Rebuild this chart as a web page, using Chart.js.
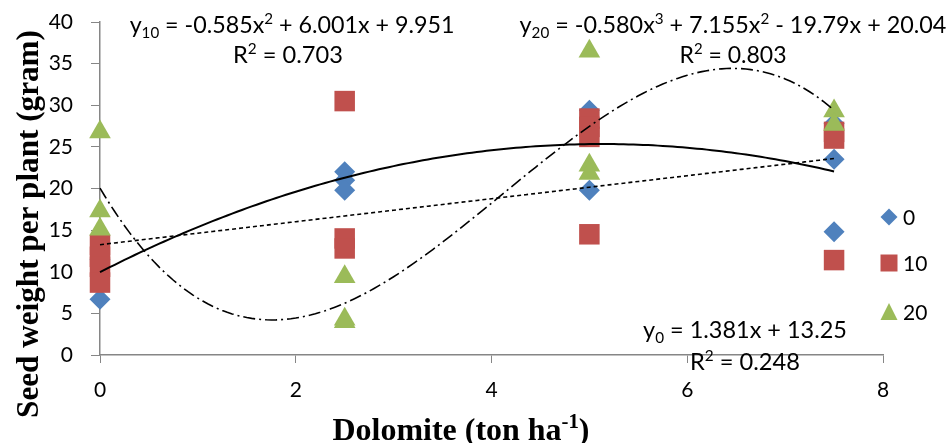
<!DOCTYPE html>
<html>
<head>
<meta charset="utf-8">
<script src="https://cdn.jsdelivr.net/npm/chart.js@4.4.0/dist/chart.umd.min.js"></script>
<style>
html, body { margin: 0; padding: 0; background: #fff; }
</style>
</head>
<body>
<canvas id="seed_chart" width="951" height="443"></canvas>
<script>
// dolomite rate (ton/ha) and seed weight per plant (gram)
var x0 = [0, 0, 2.5, 2.5, 2.5, 5, 5, 7.5, 7.5, 7.5];
var y0 = [6.7, 11.5, 22.0, 21.0, 19.8, 29.4, 19.8, 27.8, 23.5, 14.8];

var x10 = [0, 0, 0, 0, 2.5, 2.5, 2.5, 5, 5, 5, 5, 7.5, 7.5, 7.5];
var y10 = [13.2, 11.8, 10.6, 8.7, 30.5, 14.0, 12.8, 28.4, 27.4, 26.2, 14.5, 26.8, 26.0, 11.4];

var x20 = [0, 0, 0, 2.5, 2.5, 2.5, 5, 5, 5, 7.5, 7.5];
var y20 = [26.8, 17.3, 15.1, 9.4, 4.3, 4.0, 36.5, 22.8, 21.8, 29.3, 27.7];

var seriesNames = ['0', '10', '20'];
var seriesColors = ['#4F81BD', '#C0504D', '#9BBB59'];

// trendline coefficients as printed on the chart (constant term first)
var trend0 = [13.25, 1.381];
var trend10 = [9.951, 6.001, -0.585];
var trend20 = [20.04, -19.79, 7.155, -0.580];
var trendRange = [0, 7.5];

function toPoints(xs, ys) {
  return xs.map(function (x, i) { return {x: x, y: ys[i]}; });
}

function polyVal(c, x) {
  var v = 0;
  for (var i = c.length - 1; i >= 0; i--) v = v * x + c[i];
  return v;
}

var LABEL_FONT = 'Lato, "Open Sans", sans-serif';
var TITLE_FONT = '"Liberation Serif", "DejaVu Serif", serif';

// draw text made of normal / sub / sup parts, centred at cx, fitted to a width
function drawRich(ctx, parts, cx, cy, size, family, weight, targetW) {
  function fontOf(kind, s) {
    var fs = kind === 'n' ? s : s * 0.65;
    return (weight || '') + ' ' + fs + 'px ' + family;
  }
  function measure(s) {
    var w = 0;
    parts.forEach(function (p) { ctx.font = fontOf(p[1], s); w += ctx.measureText(p[0]).width; });
    return w;
  }
  var w = measure(size);
  if (targetW) { size = size * targetW / w; w = measure(size); }
  var x = cx - w / 2;
  ctx.textBaseline = 'alphabetic';
  ctx.textAlign = 'left';
  parts.forEach(function (p) {
    ctx.font = fontOf(p[1], size);
    var dy = p[1] === 'sub' ? size * 0.2 : (p[1] === 'sup' ? -size * 0.38 : 0);
    ctx.fillText(p[0], x, cy + size * 0.35 + dy);
    x += ctx.measureText(p[0]).width;
  });
}

function drawMarker(ctx, kind, x, y, color) {
  ctx.fillStyle = color;
  ctx.beginPath();
  if (kind === 'rectRot') {
    var r = 8.5;
    ctx.moveTo(x - r, y); ctx.lineTo(x, y - r); ctx.lineTo(x + r, y); ctx.lineTo(x, y + r);
  } else if (kind === 'rect') {
    ctx.rect(x - 8.5, y - 8.5, 17, 17);
  } else {
    ctx.moveTo(x, y - 9); ctx.lineTo(x + 8.5, y + 8); ctx.lineTo(x - 8.5, y + 8);
  }
  ctx.closePath();
  ctx.fill();
}

var trendPlugin = {
  id: 'trendlines',
  afterDatasetsDraw: function (chart) {
    var ctx = chart.ctx, xs = chart.scales.x, ys = chart.scales.y;
    var lines = [
      {c: trend0, dash: [4, 3], width: 1.6},
      {c: trend10, dash: [], width: 2},
      {c: trend20, dash: [12, 4, 2, 4], width: 1.6}
    ];
    ctx.save();
    ctx.strokeStyle = '#000';
    lines.forEach(function (l) {
      ctx.setLineDash(l.dash);
      ctx.lineWidth = l.width;
      ctx.beginPath();
      for (var i = 0; i <= 150; i++) {
        var xv = trendRange[0] + (trendRange[1] - trendRange[0]) * i / 150;
        var px = xs.getPixelForValue(xv), py = ys.getPixelForValue(polyVal(l.c, xv));
        if (i === 0) ctx.moveTo(px, py); else ctx.lineTo(px, py);
      }
      ctx.stroke();
    });
    ctx.restore();
  },
  afterDraw: function (chart) {
    var ctx = chart.ctx;
    ctx.save();
    ctx.fillStyle = '#000';
    // equations
    drawRich(ctx, [['y', 'n'], ['10', 'sub'], [' = -0.585x', 'n'], ['2', 'sup'], [' + 6.001x + 9.951', 'n']],
      292, 25, 21, LABEL_FONT, '', 325);
    drawRich(ctx, [['R', 'n'], ['2', 'sup'], [' = 0.703', 'n']], 288, 55, 21, LABEL_FONT, '', 110);
    drawRich(ctx, [['y', 'n'], ['20', 'sub'], [' = -0.580x', 'n'], ['3', 'sup'], [' + 7.155x', 'n'], ['2', 'sup'], [' - 19.79x + 20.04', 'n']],
      733, 25, 21, LABEL_FONT, '', 427);
    drawRich(ctx, [['R', 'n'], ['2', 'sup'], [' = 0.803', 'n']], 733, 55, 21, LABEL_FONT, '', 107);
    drawRich(ctx, [['y', 'n'], ['0', 'sub'], [' = 1.381x + 13.25', 'n']], 745, 330, 21, LABEL_FONT, '', 204);
    drawRich(ctx, [['R', 'n'], ['2', 'sup'], [' = 0.248', 'n']], 745, 362, 21, LABEL_FONT, '', 110);

    // axis titles
    drawRich(ctx, [['Dolomite (ton ha', 'n'], ['-1', 'sup'], [')', 'n']], 461, 429, 25, TITLE_FONT, 'bold', 257);
    ctx.save();
    ctx.translate(27, 224);
    ctx.rotate(-Math.PI / 2);
    drawRich(ctx, [['Seed weight per plant (gram)', 'n']], 0, 0, 25, TITLE_FONT, 'bold', 388);
    ctx.restore();

    // legend
    var kinds = ['rectRot', 'rect', 'triangle'];
    var ly = [217, 263, 312];
    for (var i = 0; i < 3; i++) {
      drawMarker(ctx, kinds[i], 889, ly[i], seriesColors[i]);
      ctx.fillStyle = '#000';
      ctx.font = '21px ' + LABEL_FONT;
      ctx.textAlign = 'left';
      ctx.textBaseline = 'middle';
      ctx.fillText(seriesNames[i], 903, ly[i] + 1);
    }
    ctx.restore();
  }
};

var tickFont = {family: LABEL_FONT, size: 21};

var seedChart = new Chart(document.getElementById('seed_chart'), {
  type: 'scatter',
  data: {
    datasets: [
      {label: seriesNames[0], data: toPoints(x0, y0), pointStyle: 'rectRot', pointRadius: 10.5,
        backgroundColor: seriesColors[0], borderColor: seriesColors[0], borderWidth: 0, order: 3, clip: false},
      {label: seriesNames[1], data: toPoints(x10, y10), pointStyle: 'rect', pointRadius: 14.5,
        backgroundColor: seriesColors[1], borderColor: seriesColors[1], borderWidth: 0, order: 2, clip: false},
      {label: seriesNames[2], data: toPoints(x20, y20), pointStyle: 'triangle', pointRadius: 12.5,
        backgroundColor: seriesColors[2], borderColor: seriesColors[2], borderWidth: 0, order: 1, clip: false}
    ]
  },
  options: {
    responsive: false,
    animation: false,
    layout: {padding: {top: 22, right: 68, left: 0, bottom: 0}},
    plugins: {legend: {display: false}, tooltip: {enabled: false}},
    scales: {
      x: {
        type: 'linear', min: 0, max: 8,
        ticks: {stepSize: 2, color: '#000', font: tickFont, padding: 15},
        grid: {display: true, drawOnChartArea: false, drawTicks: true, tickLength: 8, color: '#868686'},
        border: {color: '#868686', width: 1.5},
        afterFit: function (s) { s.height = 88; s.paddingLeft = 0; s.paddingRight = 0; }
      },
      y: {
        min: 0, max: 40,
        ticks: {stepSize: 5, color: '#000', font: tickFont, padding: 18},
        grid: {display: true, drawOnChartArea: false, drawTicks: true, tickLength: 9, color: '#868686'},
        border: {color: '#868686', width: 1.5},
        afterFit: function (s) { s.width = 100; s.paddingTop = 0; s.paddingBottom = 0; }
      }
    }
  },
  plugins: [trendPlugin]
});
</script>
</body>
</html>
